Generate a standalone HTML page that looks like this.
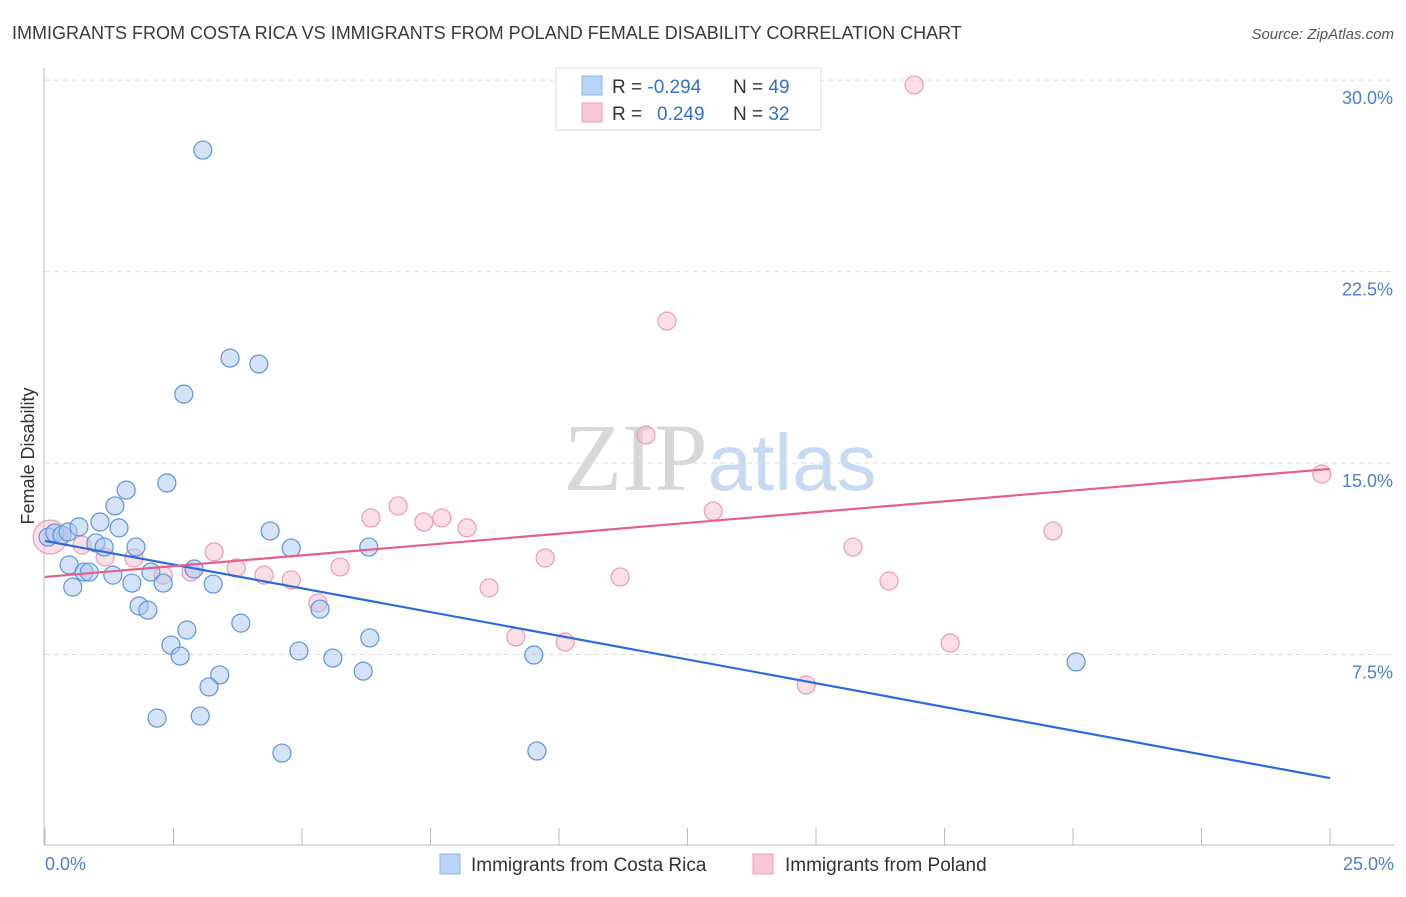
<!DOCTYPE html>
<html><head><meta charset="utf-8"><style>
body{margin:0;background:#fff;font-family:"Liberation Sans",sans-serif}
svg text{font-family:"Liberation Sans",sans-serif}
</style></head><body>
<svg id="chart" width="1406" height="892" xmlns="http://www.w3.org/2000/svg">
<text x="12" y="39" font-size="18" fill="#3a3a3a">IMMIGRANTS FROM COSTA RICA VS IMMIGRANTS FROM POLAND FEMALE DISABILITY CORRELATION CHART</text>
<text x="1394" y="39" font-size="15" fill="#555" text-anchor="end" font-style="italic">Source: ZipAtlas.com</text>
<text x="720" y="490" font-size="96" text-anchor="middle"><tspan fill="#d8d8d8" font-family="Liberation Serif">ZIP</tspan><tspan fill="#c7daf3" font-size="80">atlas</tspan></text>
<text transform="translate(34,456) rotate(-90)" font-size="18" fill="#333" text-anchor="middle">Female Disability</text>
<g id="grid"></g><g id="axes"></g><g id="marks"></g>
<g>
<rect x="556" y="68" width="265" height="62" fill="#fff" stroke="#ddd"/>
<rect x="582" y="76" width="20" height="19" fill="#b8d3f5" stroke="#8fb6ea"/>
<rect x="582" y="103" width="20" height="19" fill="#f9c6d6" stroke="#ef9fba"/>
<text x="612" y="93" font-size="19" fill="#333">R = <tspan fill="#2f6fd6">-0.294</tspan><tspan x="733">N = </tspan><tspan fill="#2f6fd6">49</tspan></text>
<text x="612" y="120" font-size="19" fill="#333">R = <tspan fill="#2f6fd6" x="657">0.249</tspan><tspan x="733">N = </tspan><tspan fill="#2f6fd6">32</tspan></text>
</g>
<g>
<rect x="440" y="854" width="20" height="20" fill="#b8d3f5" stroke="#8fb6ea"/>
<text x="471" y="871" font-size="19" fill="#333">Immigrants from Costa Rica</text>
<rect x="753" y="854" width="20" height="20" fill="#f9c6d6" stroke="#ef9fba"/>
<text x="785" y="871" font-size="19" fill="#333">Immigrants from Poland</text>
</g>
</svg>
<script>
const blueX=[0.06,0.19,0.33,0.45,0.66,1.07,1.36,1.58,2.37,1.44,0.99,1.15,1.77,0.47,0.76,0.86,1.32,2.06,2.30,0.54,1.69,2.90,3.27,1.83,2.00,2.76,3.81,2.45,2.63,3.40,3.19,2.18,3.02,4.61,3.07,3.60,4.16,2.70,4.38,4.79,4.94,5.60,6.19,5.35,6.30,6.32,9.51,9.57,20.06];
const blueY=[12.10,12.26,12.18,12.30,12.50,12.69,13.32,13.94,14.22,12.46,11.87,11.71,11.71,11.01,10.73,10.73,10.61,10.73,10.30,10.14,10.30,10.85,10.26,9.40,9.24,8.46,8.73,7.87,7.44,6.70,6.23,5.01,5.09,3.64,27.26,19.11,18.88,17.70,12.34,11.67,7.64,7.36,6.85,9.28,11.71,8.15,7.48,3.72,7.21];
const pinkX=[0.10,0.72,1.17,1.73,2.30,2.84,3.29,3.72,4.26,4.79,5.31,5.74,6.34,6.87,7.37,7.72,8.21,8.64,9.16,9.73,10.12,11.19,11.69,12.10,13.00,14.81,15.72,16.42,17.61,19.61,16.91,24.84];
const pinkY=[12.10,11.79,11.32,11.28,10.61,10.73,11.52,10.89,10.61,10.42,9.52,10.93,12.85,13.32,12.69,12.85,12.46,10.11,8.19,11.28,7.99,10.54,16.10,20.56,13.12,6.31,11.71,10.38,7.95,12.34,29.81,14.57];
const blueTrend=[11.95,2.66];
const pinkTrend=[10.54,14.77];
const yTicks=[7.5,15.0,22.5,30.0];
const yTickLabels=["7.5%","15.0%","22.5%","30.0%"];
const xTicks=[0,2.5,5,7.5,10,12.5,15,17.5,20,22.5,25];
const NS="http://www.w3.org/2000/svg";
const sx=v=>45+v*51.4, sy=v=>846-v*25.53;
function mk(tag,attrs,parent){const e=document.createElementNS(NS,tag);for(const k in attrs)e.setAttribute(k,attrs[k]);document.getElementById(parent).appendChild(e);return e;}
yTicks.forEach((t,i)=>{
 const g=mk('line',{x1:45,x2:1394,y1:sy(t),y2:sy(t),stroke:'#ddd','stroke-dasharray':'5,4'},'grid');
 
 
 const l=mk('text',{x:1393,y:sy(t)+24,'font-size':18,fill:'#4a7fd6','text-anchor':'end'},'axes');
 l.textContent=yTickLabels[i];
 
 
});
const ax=mk('line',{x1:45,x2:1394,y1:845,y2:845,stroke:'#bbb'},'axes');


const ay=mk('line',{x1:44,x2:44,y1:68,y2:845,stroke:'#bbb'},'axes');


xTicks.forEach(t=>{
 const k=mk('line',{x1:sx(t),x2:sx(t),y1:828,y2:845,stroke:'#bbb'},'axes');
 
 
});
const x0=mk('text',{x:45,y:870,'font-size':18,fill:'#4a7fd6'},'axes');x0.textContent='0.0%';


const x1=mk('text',{x:1394,y:870,'font-size':18,fill:'#4a7fd6','text-anchor':'end'},'axes');x1.textContent='25.0%';


pinkX.forEach((x,i)=>{
 const c=mk('circle',{cx:sx(x),cy:sy(pinkY[i]),r:i===0?17:9,fill:'rgba(247,184,204,0.45)',stroke:'#ec9ab5','stroke-width':1.2},'marks');
 
 
});
blueX.forEach((x,i)=>{
 const c=mk('circle',{cx:sx(x),cy:sy(blueY[i]),r:9,fill:'rgba(169,200,240,0.5)',stroke:'#5b93e0','stroke-width':1.2},'marks');
 
 
});
const bl=mk('line',{x1:sx(0),y1:sy(blueTrend[0]),x2:sx(25),y2:sy(blueTrend[1]),stroke:'#2a6dd9','stroke-width':2.2},'marks');


const pl=mk('line',{x1:sx(0),y1:sy(pinkTrend[0]),x2:sx(25),y2:sy(pinkTrend[1]),stroke:'#e5608a','stroke-width':2.2},'marks');


</script>
</body></html>
